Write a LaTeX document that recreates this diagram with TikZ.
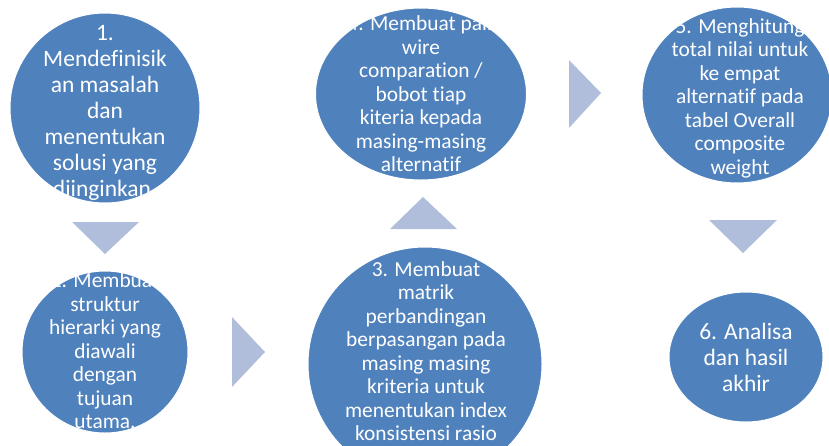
\documentclass[tikz,border=0pt]{standalone}
\usepackage{fontspec}
\setmainfont{Carlito}[Ligatures=NoCommon]
\usetikzlibrary{shapes.geometric}
\definecolor{stepblue}{HTML}{4F81BD}
\definecolor{arrowblue}{HTML}{B0BEDB}

\begin{document}
\begin{tikzpicture}[x=1pt,y=-1pt]
\tikzset{ stepcircle/.style={ellipse, fill=stepblue, draw=white, line width=1pt, inner sep=0pt},
          steptext/.style={text=white, align=center, inner sep=0pt, font=\fontsize{21.4}{23.5}\selectfont},
          bigtext/.style={steptext, font=\fontsize{23.5}{26}\selectfont},
          flowarrow/.style={fill=arrowblue} }

\useasboundingbox (0,0) rectangle (829,445);

% circles
\node [stepcircle, minimum width=190, minimum height=190] (C1) at (105,108) {};
\node [stepcircle, minimum width=166, minimum height=162] (C2) at (105,352) {};
\node [stepcircle, minimum width=234, minimum height=234] (C3) at (425,364) {};
\node [stepcircle, minimum width=211, minimum height=172] (C4) at (421,94) {};
\node [stepcircle, minimum width=190, minimum height=176] (C5) at (737,95) {};
\node [stepcircle, minimum width=154, minimum height=130] (C6) at (746,357) {};

% arrows
\fill [flowarrow] (72,222)  -- (139,222) -- (105,254) -- cycle;
\fill [flowarrow] (232,317) -- (232,387) -- (265,352) -- cycle;
\fill [flowarrow] (390,229) -- (457,229) -- (423,197) -- cycle;
\fill [flowarrow] (569,60)  -- (569,128) -- (601,93)  -- cycle;
\fill [flowarrow] (709,220) -- (777,220) -- (743,253) -- cycle;

% texts
\node [bigtext] (T1) at (105,113) {1.\\Mendefinisik\\an masalah\\dan\\menentukan\\solusi yang\\diinginkan.};
\node [steptext] (T2) at (105,351) {2. Membuat\\struktur\\hierarki yang\\diawali\\dengan\\tujuan\\utama.};
\node [steptext] (T3) at (426,351) {3. Membuat\\matrik\\perbandingan\\berpasangan pada\\masing masing\\kriteria untuk\\menentukan index\\konsistensi rasio};
\node [steptext] (T4) at (421,94) {4. Membuat pair\\wire\\comparation /\\bobot tiap\\kiteria kepada\\masing-masing\\alternatif};
\node [steptext] (T5) at (740,98) {5. Menghitung\\total nilai untuk\\ke empat\\alternatif pada\\tabel Overall\\composite\\weight};
\node [bigtext] (T6) at (746,357) {6. Analisa\\dan hasil\\akhir};

\end{tikzpicture}
\end{document}
